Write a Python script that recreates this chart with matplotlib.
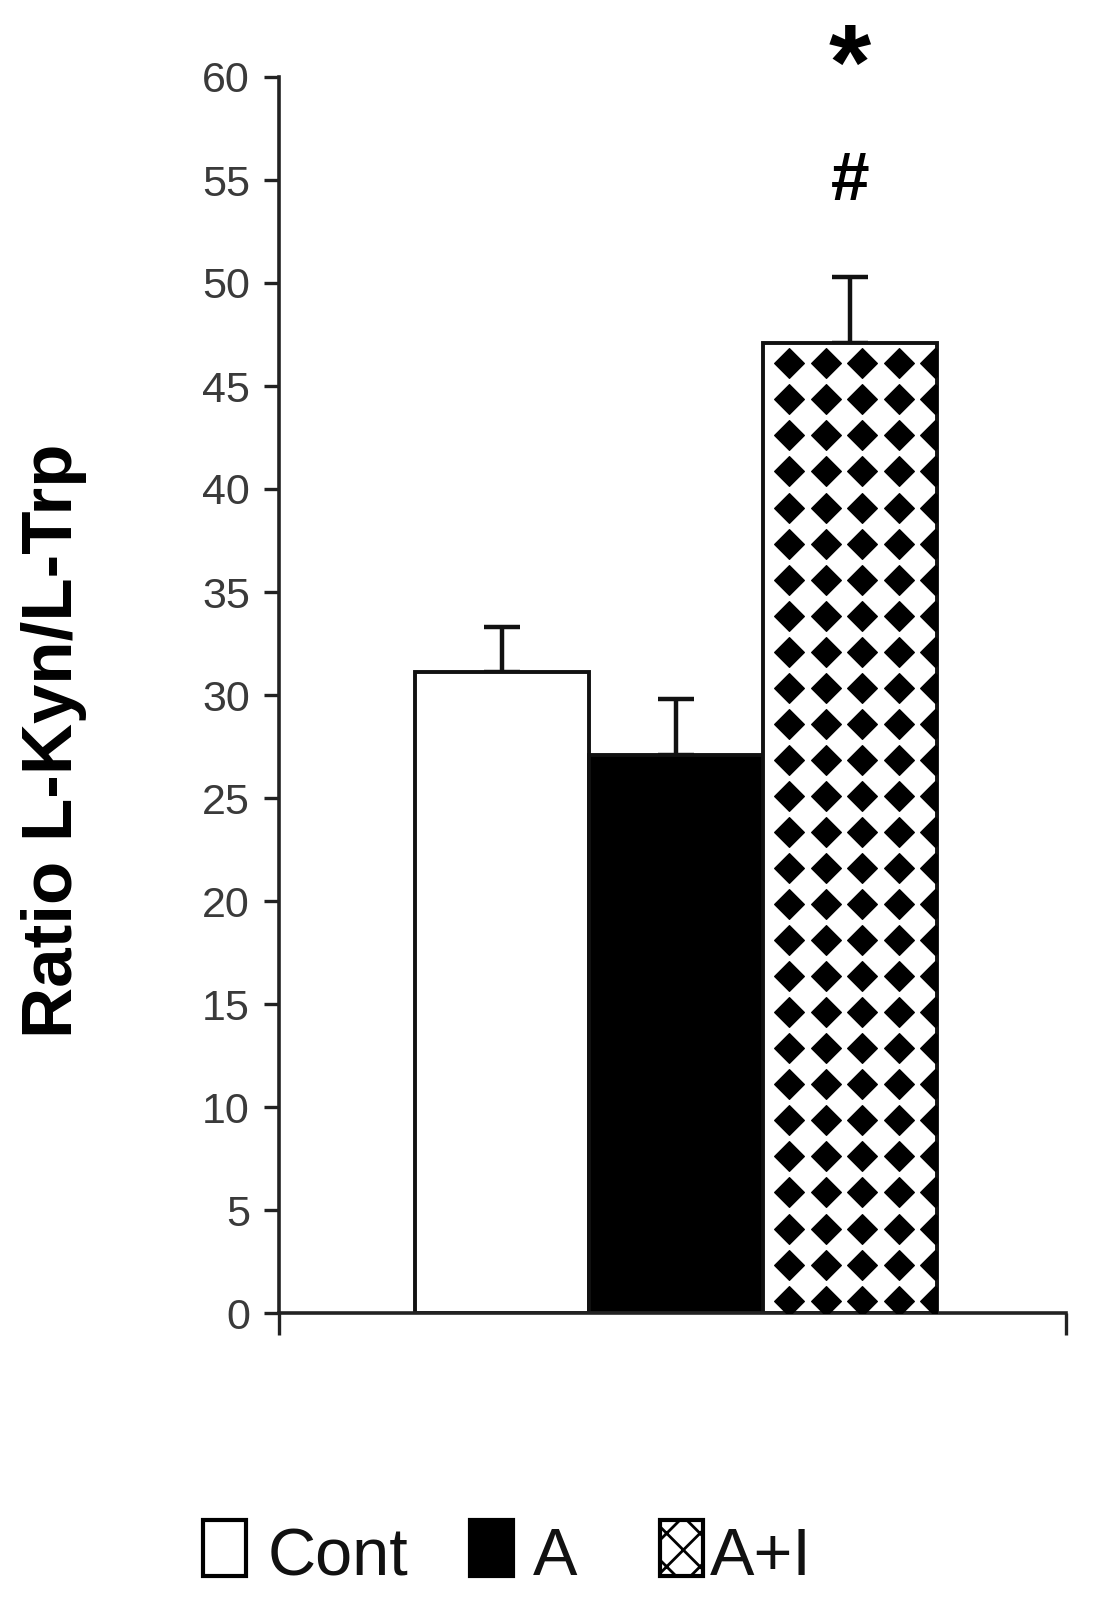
import numpy as np
import matplotlib
matplotlib.use("Agg")
import matplotlib.pyplot as plt
from matplotlib.patches import Rectangle

# --- data ---
groups = ["Cont", "A", "A+I"]
means = [31.1, 27.1, 47.1]
errors = [2.2, 2.7, 3.2]
y_ticks = [0, 5, 10, 15, 20, 25, 30, 35, 40, 45, 50, 55, 60]
marks = ["*", "#"]          # significance marks over A+I

plt.rcParams["font.family"] = ["Liberation Sans", "DejaVu Sans"]
plt.rcParams["hatch.linewidth"] = 2.0

W, H = 1094, 1619
fig = plt.figure(figsize=(W / 100, H / 100), dpi=100)
ax = fig.add_axes([279 / W, 1 - 1313 / H, (1066 - 279) / W, (1313 - 77) / H])

x = np.arange(len(groups))
bars = ax.bar(x, means, width=1.0, color=["white", "black", "white"],
              edgecolor="#111111", linewidth=2.8, zorder=2)
ax.errorbar(x, means, yerr=[np.zeros(len(errors)), errors], fmt="none",
            ecolor="#111111", elinewidth=3.2, capsize=13, capthick=3.2, zorder=1)

# diamond fill pattern for the A+I bar
pat = bars[2]
bx0 = pat.get_x()
cols = bx0 + 0.15 + 0.21 * np.arange(5)
rows = np.arange(means[2] - 1.0, -1.0, -1.75)
gx, gy = np.meshgrid(cols, rows)
dots, = ax.plot(gx.ravel(), gy.ravel(), ls="none", marker="D", ms=15,
                color="black", mew=0.8, zorder=3)
dots.set_clip_path(pat)

ax.set_xlim(-1.28, 3.24)
ax.set_ylim(0, 60)
ax.set_yticks(y_ticks)
ax.set_xticks([-1.28, 3.24])
ax.set_xticklabels([])
ax.tick_params(axis="y", direction="out", length=11, width=2.4, color="#222222",
               labelsize=31, labelcolor="#3a3a3a", pad=10)
ax.tick_params(axis="x", direction="out", length=16, width=2.4, color="#222222")
for s in ["top", "right"]:
    ax.spines[s].set_visible(False)
for s in ["left", "bottom"]:
    ax.spines[s].set_linewidth(2.6)
    ax.spines[s].set_color("#222222")

fig.text(54 / W, 1 - 741 / H, "Ratio L-Kyn/L-Trp", rotation=90, fontsize=51,
         fontweight="bold", ha="center", va="center")

ax.text(x[2], 60.3, marks[0], ha="center", va="center", fontsize=78,
        fontweight="bold", clip_on=False)
ax.text(x[2], 54.9, marks[1], ha="center", va="center", fontsize=50,
        fontweight="bold", clip_on=False)

# legend drawn along the bottom
box_y, box_h, box_w = 1 - 1576 / H, 56 / H, 43 / W
legend_items = [(203, "white", None, 268), (470, "black", None, 533), (660, "white", "x", 710)]
for (bx, fc, hatch, tx), name in zip(legend_items, groups):
    fig.add_artist(Rectangle((bx / W, box_y), box_w, box_h, transform=fig.transFigure,
                             facecolor=fc, edgecolor="black", linewidth=3, hatch=hatch))
    fig.text(tx / W, box_y + 1 / H, name, fontsize=48,
             ha="left", va="baseline", color="#111111")

fig.savefig("out.png", dpi=100)
